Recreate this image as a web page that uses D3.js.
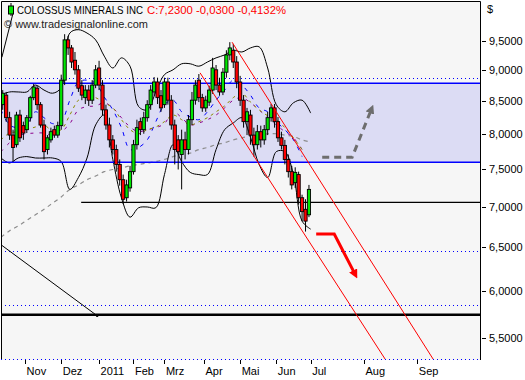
<!DOCTYPE html>
<html>
<head>
<meta charset="utf-8">
<script src="https://cdn.jsdelivr.net/npm/d3@7"></script>
<style>
  body { margin: 0; background: #fff; }
  text { font-family: "Liberation Sans", Arial, sans-serif; }
</style>
</head>
<body>
<div id="chart"></div>
<script>
// ---- data ----
// candles: one every 2 trading days, day 0 = 1 Nov 2010
var firstDay = -13
var dayStep = 2
var open = [8.45,8.60,8.25,7.99,7.85,8.29,8.13,8.07,8.25,8.56, 8.71,8.45,8.14,7.78,7.92,8.07,7.99,8.13,8.84,9.52,
  9.38,9.17,9.01,8.75,8.56,8.68,8.52,8.76,9.04,8.76, 8.37,8.14,7.92,7.78,7.57,7.36,7.12,7.25,7.47,7.85,
  8.19,8.07,8.25,8.45,8.65,8.81,8.59,8.45,8.81,8.52, 8.14,7.92,7.71,7.92,7.78,8.22,8.52,8.84,8.56,8.40,
  8.49,8.68,9.01,8.76,8.65,8.97,9.26,9.34,9.14,8.81, 8.52,8.19,8.29,7.99,7.85,8.04,7.92,8.07,8.25,8.40,
  8.19,7.95,7.84,7.64,7.47,7.32,7.43,7.12,6.97,6.90]
var high = [8.68,8.65,8.34,8.07,8.34,8.37,8.19,8.29,8.59,8.78, 8.75,8.49,8.22,7.99,8.10,8.13,8.19,8.93,9.62,9.59,
  9.43,9.31,9.09,8.84,8.76,8.76,8.84,9.09,9.16,8.84, 8.45,8.25,7.99,7.85,7.64,7.43,7.36,7.55,7.92,8.22,
  8.25,8.34,8.52,8.76,8.89,8.88,8.68,8.88,8.88,8.60, 8.22,7.99,8.07,8.04,8.29,8.65,8.84,8.94,8.62,8.59,
  8.75,9.21,9.09,8.88,9.04,9.34,9.48,9.45,9.24,8.91, 8.60,8.40,8.37,8.10,8.14,8.13,8.14,8.34,8.46,8.46,
  8.26,8.04,7.92,7.71,7.55,7.53,7.47,7.16,7.10,7.29]
var low = [8.37,8.19,7.92,7.61,7.81,7.89,7.92,8.02,8.19,8.52, 8.37,8.10,7.64,7.71,7.88,7.95,7.95,8.07,8.76,9.26,
  9.04,8.93,8.65,8.52,8.46,8.43,8.46,8.71,8.68,8.29, 8.07,7.81,7.71,7.47,7.28,7.04,7.07,7.20,7.43,7.78,
  7.99,8.01,8.19,8.37,8.59,8.46,8.34,8.40,8.45,8.07, 7.57,7.50,7.23,7.64,7.71,8.14,8.45,8.49,8.34,8.34,
  8.43,8.62,8.68,8.59,8.60,8.88,9.17,9.04,8.71,8.43, 8.10,7.99,7.85,7.68,7.78,7.81,7.85,7.99,8.19,8.10,
  7.89,7.78,7.57,7.39,7.23,7.25,7.03,6.82,6.69,6.87]
var close = [8.63,8.25,7.99,7.81,8.29,7.95,8.02,8.25,8.56,8.73, 8.45,8.14,7.75,7.95,8.04,7.99,8.13,8.84,9.52,9.38,
  9.14,9.01,8.71,8.60,8.68,8.52,8.76,9.01,8.76,8.37, 8.14,7.92,7.78,7.57,7.36,7.10,7.29,7.47,7.85,8.10,
  8.07,8.25,8.45,8.68,8.81,8.56,8.40,8.81,8.52,8.14, 7.78,7.75,7.92,7.78,8.22,8.52,8.76,8.56,8.40,8.52,
  8.68,9.04,8.76,8.65,8.97,9.26,9.38,9.14,8.81,8.52, 8.19,8.34,7.99,7.85,8.04,7.92,8.07,8.25,8.40,8.19,
  7.95,7.84,7.64,7.47,7.29,7.46,7.12,6.94,6.82,7.23]

// indicator lines: one reading every 5 days from day -14
var lineFirstDay = -14
var lineStep = 5
var bandUpper = [8.60,8.65,8.65,8.65,8.76,8.68,8.63,8.72,9.64,9.70,9.64,9.52,9.24,9.04,9.21,9.07,8.42,8.37,8.65,8.93,
  9.01,9.11,9.11,9.07,9.14,9.21,9.26,9.34,9.31,9.38,9.40,9.04,8.45,8.34,8.48,8.52,8.32]
var bandLower = [7.66,7.59,7.66,7.68,7.66,7.66,7.66,7.61,7.23,7.39,7.66,8.14,8.29,7.64,7.12,6.87,6.99,7.00,6.99,7.43,
  7.85,7.61,7.46,7.43,7.43,7.78,8.07,8.17,8.25,7.96,7.57,7.39,7.75,7.75,7.43,6.82,6.72]
var ma200 = [6.62,6.70,6.76,6.83,6.90,6.97,7.05,7.13,7.23,7.29,7.36,7.41,7.47,7.50,7.52,7.55,7.57,7.59,7.61,7.64,
  7.68,7.71,7.73,7.78,7.81,7.85,7.88,7.92,7.95,7.98,7.99,8.01,8.01,7.99,7.97,7.92,7.89]
var maOlive = [7.92,8.02,8.04,8.07,8.11,8.14,8.05,8.07,8.29,8.52,8.59,8.56,8.48,8.40,8.22,8.07,8.01,8.07,8.11,8.19,
  8.29,8.22,8.14,8.19,8.25,8.34,8.43,8.56,8.63,8.49,8.37,8.28,8.22,8.10,7.95,7.78]
var maPurple = [7.75,7.88,7.98,8.01,8.02,8.02,7.99,8.04,8.16,8.37,8.42,8.43,8.48,8.40,8.25,8.11,8.04,8.07,8.10,8.16,
  8.34,8.25,8.14,8.17,8.22,8.29,8.40,8.52,8.56,8.48,8.37,8.25,8.14,8.04,7.95,7.78]
var maBlue = [8.37,8.14,8.10,8.14,8.34,8.25,8.16,8.19,8.52,8.81,8.84,8.79,8.57,8.37,8.10,7.78,7.81,7.92,8.19,8.45,
  8.52,8.34,8.26,8.22,8.34,8.52,8.68,8.84,8.76,8.60,8.40,8.34,8.19,8.07,7.92,7.68]

// drawn levels and trendlines [day, price]
var zoneLevels = [7.60, 8.79]
var dottedLevels = [8.87, 6.45, 5.84]
var thickLevel = 5.74
var supportLine = [[32.6, 7.06], [265, 7.06]]
var channelUpper = [[120.3, 9.48], [237.2, 5.29]]
var channelLower = [[101.7, 8.96], [209.3, 5.29]]
var oldTrend = [[-14, 6.53], [41.9, 5.73]]
var earlyTrend = [[-13.5, 9.22], [-7.0, 10.0]]
var arrowDown = [[169.2, 6.66], [179.7, 6.66], [191.4, 6.20]]
var arrowUp = [[172.7, 7.67], [190.1, 7.67], [201.0, 8.36]]

// axis
var yTicks = [5.5, 6, 6.5, 7, 7.5, 8, 8.5, 9, 9.5]
var monthNames = ['Nov', 'Dez', '2011', 'Feb', 'Mrz', 'Apr', 'Mai', 'Jun', 'Jul', 'Aug', 'Sep']
var monthDays = [0, 21, 43, 63, 81, 104, 125, 146, 166, 197, 228]

;(function () {
  var margin = { top: 1, right: 44, bottom: 20, left: 1 }
  var width = 525 - margin.left - margin.right
  var height = 380 - margin.top - margin.bottom

  var root = d3.select('#chart')
    .append('svg')
    .attr('width', 525)
    .attr('height', 380)
  root.append('rect').attr('width', 525).attr('height', 380).attr('fill', '#fff')

  var defs = root.append('defs')
  defs.append('clipPath').attr('id', 'plot')
    .append('rect').attr('width', width).attr('height', height)
  // arrow heads
  ;[['headRed', '#ff0000'], ['headGray', '#6e6e6e']].forEach(m => {
    defs.append('marker').attr('id', m[0])
      .attr('viewBox', '0 0 10 10').attr('refX', 3).attr('refY', 5)
      .attr('markerWidth', 3).attr('markerHeight', 3).attr('orient', 'auto')
      .append('path').attr('d', 'M0,0L10,5L0,10z').attr('fill', m[1])
  })

  var svg = root.append('g')
    .attr('transform', 'translate(' + margin.left + ',' + margin.top + ')')

  var x = d3.scaleLinear().domain([-14, 265]).range([0, width])
  var y = d3.scaleLog().domain([5.282, 10.226]).range([height, 0])

  svg.append('rect').attr('width', width).attr('height', height).attr('fill', '#f6f6f6')

  var plot = svg.append('g').attr('clip-path', 'url(#plot)')

  // zone
  plot.append('rect')
    .attr('x', 0).attr('width', width)
    .attr('y', y(zoneLevels[1])).attr('height', y(zoneLevels[0]) - y(zoneLevels[1]))
    .attr('fill', '#dcdcf4')

  plot.selectAll('.dotted').data(dottedLevels).enter().append('line')
    .attr('x1', 0).attr('x2', width)
    .attr('y1', d => Math.round(y(d)) + 0.5).attr('y2', d => Math.round(y(d)) + 0.5)
    .attr('stroke', '#0000ff').attr('stroke-dasharray', '1,3')

  var line = d3.line().x(d => x(d[0])).y(d => y(d[1]))

  function series (values) {
    return values.map((v, i) => [lineFirstDay + i * lineStep, v])
  }
  var smooth = d3.line().x(d => x(d[0])).y(d => y(d[1])).curve(d3.curveCatmullRom)

  // moving averages
  plot.append('path').attr('d', smooth(series(ma200)))
    .attr('fill', 'none').attr('stroke', '#8c8c8c').attr('stroke-width', 1.2).attr('stroke-dasharray', '4,4')
  plot.append('path').attr('d', smooth(series(maBlue)))
    .attr('fill', 'none').attr('stroke', '#0000ff').attr('stroke-dasharray', '4,6')
  plot.append('path').attr('d', smooth(series(maPurple)))
    .attr('fill', 'none').attr('stroke', '#8b008b').attr('stroke-dasharray', '3,6')
  plot.append('path').attr('d', smooth(series(maOlive)))
    .attr('fill', 'none').attr('stroke', '#8b8b00').attr('stroke-dasharray', '3,4')

  // bollinger bands
  ;[bandUpper, bandLower].forEach(b => {
    plot.append('path').attr('d', smooth(series(b)))
      .attr('fill', 'none').attr('stroke', '#000').attr('stroke-width', 1)
  })

  // zone borders
  plot.selectAll('.zone').data(zoneLevels).enter().append('line')
    .attr('x1', 0).attr('x2', width)
    .attr('y1', d => y(d)).attr('y2', d => y(d))
    .attr('stroke', '#0000ff').attr('stroke-width', 1.4)

  // horizontal lines
  plot.append('path').attr('d', line(supportLine))
    .attr('stroke', '#000').attr('stroke-width', 1.4)
  plot.append('line')
    .attr('x1', 0).attr('x2', width).attr('y1', y(thickLevel)).attr('y2', y(thickLevel))
    .attr('stroke', '#000').attr('stroke-width', 2.6)

  // trendlines
  ;[oldTrend, earlyTrend].forEach(t => {
    plot.append('path').attr('d', line(t)).attr('stroke', '#000').attr('stroke-width', 1)
  })
  plot.append('circle').attr('cx', x(oldTrend[1][0])).attr('cy', y(oldTrend[1][1])).attr('r', 1.3)

  // candles
  var candles = close.map((c, i) => ({
    day: firstDay + i * dayStep, o: open[i], h: high[i], l: low[i], c: c
  }))
  var g = plot.selectAll('.candle').data(candles).enter().append('g')
  g.append('line')
    .attr('x1', d => x(d.day)).attr('x2', d => x(d.day))
    .attr('y1', d => y(d.h)).attr('y2', d => y(d.l))
    .attr('stroke', '#000')
  g.append('rect')
    .attr('x', d => x(d.day) - 1.6)
    .attr('width', 3.2)
    .attr('y', d => y(Math.max(d.o, d.c)))
    .attr('height', d => Math.max(1, Math.abs(y(d.o) - y(d.c))))
    .attr('fill', d => d.c >= d.o ? '#00e600' : '#ff0000')
    .attr('stroke', '#000').attr('stroke-width', 0.9)

  // red channel
  ;[channelUpper, channelLower].forEach(t => {
    plot.append('path').attr('d', line(t)).attr('stroke', '#ff0000').attr('stroke-width', 1)
  })

  // projection arrows
  plot.append('path').attr('d', line(arrowDown))
    .attr('fill', 'none').attr('stroke', '#ff0000').attr('stroke-width', 3)
    .attr('marker-end', 'url(#headRed)')
  plot.append('path').attr('d', line(arrowUp))
    .attr('fill', 'none').attr('stroke', '#6e6e6e').attr('stroke-width', 3)
    .attr('stroke-dasharray', '7,5')
    .attr('marker-end', 'url(#headGray)')

  // frame
  svg.append('path')
    .attr('d', 'M0.5,' + height + 'V0.5H' + (width - 0.5) + 'V' + height)
    .attr('fill', 'none').attr('stroke', '#000')
  svg.append('line')
    .attr('x1', 0).attr('x2', width).attr('y1', height - 0.5).attr('y2', height - 0.5)
    .attr('stroke', '#0000ff').attr('stroke-dasharray', '1,3')

  // right axis
  var yAxis = svg.append('g').attr('transform', 'translate(' + width + ',0)')
  yAxis.selectAll('line').data(yTicks).enter().append('line')
    .attr('x1', 1).attr('x2', 5)
    .attr('y1', d => Math.round(y(d)) + 0.5).attr('y2', d => Math.round(y(d)) + 0.5)
    .attr('stroke', '#000')
  yAxis.selectAll('text').data(yTicks).enter().append('text')
    .attr('x', 8).attr('y', d => y(d)).attr('dy', '0.35em')
    .attr('font-size', 11)
    .text(d => d3.format('.4f')(d).replace('.', ','))
  yAxis.append('text').attr('x', 6).attr('y', 12).attr('font-size', 11).text('$')

  // month axis
  var xAxis = svg.append('g').attr('transform', 'translate(0,' + height + ')')
  xAxis.selectAll('line').data(monthDays).enter().append('line')
    .attr('x1', d => Math.round(x(d)) + 0.5).attr('x2', d => Math.round(x(d)) + 0.5)
    .attr('y1', 0).attr('y2', 4)
    .attr('stroke', '#000')
  xAxis.selectAll('text').data(monthDays).enter().append('text')
    .attr('x', d => x(d) + 1.5).attr('y', 15)
    .attr('font-size', 11)
    .text((d, i) => monthNames[i])

  // title
  svg.append('line').attr('x1', 10).attr('x2', 10).attr('y1', 2).attr('y2', 15).attr('stroke', '#000')
  svg.append('rect').attr('x', 7.5).attr('y', 5).attr('width', 5).attr('height', 8)
    .attr('fill', '#00e600').attr('stroke', '#000')
  svg.append('text').attr('x', 16).attr('y', 13).attr('font-size', 10.5)
    .attr('textLength', 126).attr('lengthAdjust', 'spacingAndGlyphs')
    .text('COLOSSUS MINERALS INC')
  svg.append('text').attr('x', 146).attr('y', 13).attr('font-size', 10.5).attr('fill', '#ff0000')
    .attr('textLength', 139).attr('lengthAdjust', 'spacingAndGlyphs')
    .text('C:7,2300 -0,0300 -0,4132%')
  svg.append('text').attr('x', 3).attr('y', 27).attr('font-size', 10.5).attr('fill', '#222')
    .attr('textLength', 144).attr('lengthAdjust', 'spacingAndGlyphs')
    .text('© www.tradesignalonline.com')
})()
</script>
</body>
</html>
